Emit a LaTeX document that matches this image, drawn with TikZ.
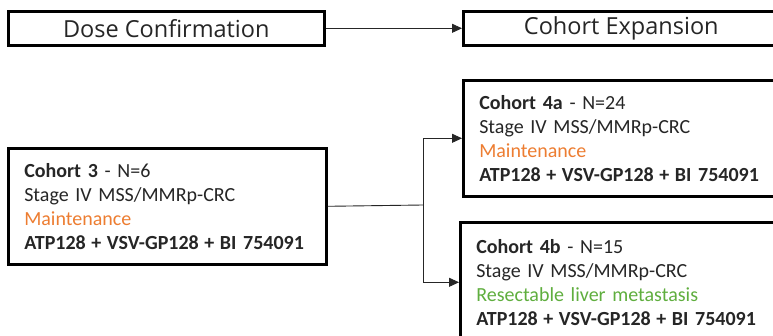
\documentclass[tikz,border=0pt]{standalone}
\usepackage{fontspec}
\setmainfont{Carlito}
\newfontfamily\headfont{Open Sans}
\usepackage{xcolor}
\usetikzlibrary{arrows.meta}
\definecolor{inkgray}{HTML}{262626}
\definecolor{maintorange}{HTML}{ED7D31}
\definecolor{livergreen}{HTML}{5FAE3E}
\newcommand{\combo}{\textbf{ATP128\hspace{0.28em}+\hspace{0.28em}VSV-GP128\hspace{0.28em}+\hspace{0.28em}BI 754091}}

\begin{document}
\begin{tikzpicture}[x=1pt, y=-1pt,
  every node/.style={text=inkgray},
  headbox/.style={draw=black, line width=2.6pt, anchor=north west,
    minimum width=316pt, minimum height=34pt, inner sep=0pt,
    font=\headfont\fontsize{23.5}{26}\selectfont},
  cohortbox/.style={draw=black, line width=2.6pt, anchor=north west, align=left,
    text width=286pt, inner xsep=16pt, minimum height=116pt,
    font=\fontsize{20}{24}\selectfont},
  link/.style={line width=0.9pt, draw=inkgray},
  linkarrow/.style={link, -{Triangle[length=10pt,width=9pt]}}]
  \useasboundingbox (0,0) rectangle (773,336);
  \clip (0,0) rectangle (773,336);
  \fill[white] (0,0) rectangle (773,336);
  % phase headers
  \node[headbox] (dose) at (7,10) {Dose Confirmation};
  \node[headbox] (expansion) at (462,10) {Cohort Expansion};
  % cohorts
  \node[cohortbox] (cohort3) at (7,147)
    {\textbf{Cohort 3} - N=6\\
     Stage IV MSS/MMRp-CRC\\
     \textcolor{maintorange}{Maintenance}\\
     \combo};
  \node[cohortbox] (cohort4a) at (462,79)
    {\textbf{Cohort 4a} - N=24\\
     Stage IV MSS/MMRp-CRC\\
     \textcolor{maintorange}{Maintenance}\\
     \combo};
  \node[cohortbox, minimum height=120pt] (cohort4b) at (459,221)
    {\textbf{Cohort 4b} - N=15\\
     Stage IV MSS/MMRp-CRC\\
     \textcolor{livergreen}{Resectable liver metastasis}\\
     \combo};
  \coordinate (split) at (423,205);
  % connectors
  \draw[linkarrow] (dose) -- (expansion);
  \draw[link] (cohort3.east) -- (split);
  \draw[linkarrow] (split) |- (cohort4a.west);
  \draw[linkarrow] (split) |- (cohort4b.west);
\end{tikzpicture}
\end{document}
